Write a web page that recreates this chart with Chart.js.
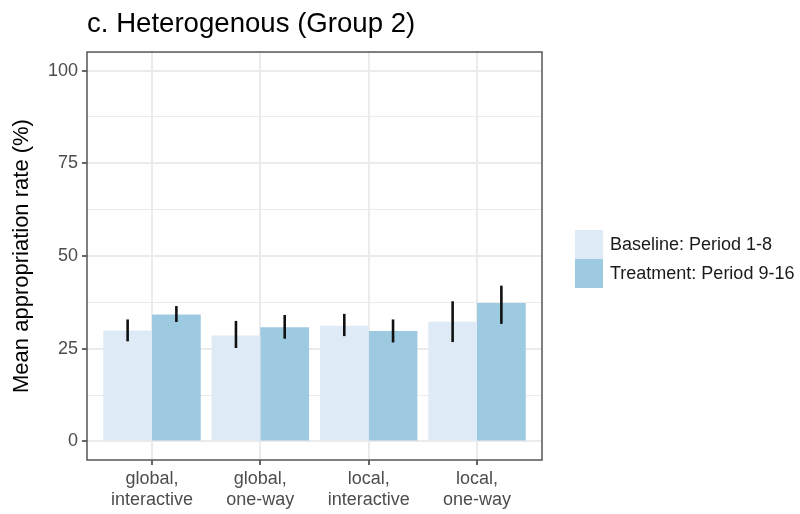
<!DOCTYPE html>
<html><head><meta charset="utf-8">
<script src="https://cdn.jsdelivr.net/npm/chart.js@4"></script>
<style>html,body{margin:0;padding:0;background:#fff;}</style>
</head><body>
<canvas id="c" width="800" height="514" style="width:800px;height:514px;display:block"></canvas>
<script>
const categories = [['global,','interactive'],['global,','one-way'],['local,','interactive'],['local,','one-way']];
const seriesNames = ['Baseline: Period 1-8','Treatment: Period 9-16'];
const seriesColors = ['#deebf7','#9ecae1'];
const baseline = [29.9, 28.6, 31.2, 32.3];
const treatment = [34.2, 30.8, 29.8, 37.3];
const baselineLow = [27.0, 25.2, 28.4, 26.8];
const baselineHigh = [32.9, 32.5, 34.4, 37.8];
const treatmentLow = [32.2, 27.7, 26.7, 31.7];
const treatmentHigh = [36.5, 34.1, 32.9, 42.0];
const yTicks = [0, 25, 50, 75, 100];
const yMinorTicks = [12.5, 37.5, 62.5, 87.5];
const titleText = 'c. Heterogenous (Group 2)';
const yTitle = 'Mean appropriation rate (%)';

const FONT = '"Liberation Sans", Arial, Helvetica, sans-serif';
Chart.defaults.font.family = FONT;

const seriesValues = [baseline, treatment];
const seriesLow = [baselineLow, treatmentLow];
const seriesHigh = [baselineHigh, treatmentHigh];

const datasets = seriesValues.map((vals, s) => ({
  label: seriesNames[s],
  data: vals.map((v, i) => ({x: i + 1, y: v})),
  errLow: seriesLow[s],
  errHigh: seriesHigh[s],
  backgroundColor: seriesColors[s],
  borderWidth: 0,
  categoryPercentage: 0.9,
  barPercentage: 1.0
}));

const errorBars = {
  id: 'errorBars',
  afterDatasetsDraw(chart) {
    const ctx = chart.ctx, ys = chart.scales.y;
    ctx.save();
    ctx.strokeStyle = '#111';
    ctx.lineWidth = 2.6;
    chart.data.datasets.forEach((ds, i) => {
      const meta = chart.getDatasetMeta(i);
      meta.data.forEach((el, j) => {
        ctx.beginPath();
        ctx.moveTo(el.x, ys.getPixelForValue(ds.errLow[j]));
        ctx.lineTo(el.x, ys.getPixelForValue(ds.errHigh[j]));
        ctx.stroke();
      });
    });
    ctx.restore();
  }
};

const panelAndLegend = {
  id: 'panelAndLegend',
  afterDraw(chart) {
    const ctx = chart.ctx, a = chart.chartArea;
    ctx.save();
    ctx.strokeStyle = '#555';
    ctx.lineWidth = 1.5;
    ctx.strokeRect(a.left, a.top, a.right - a.left, a.bottom - a.top);
    chart.data.datasets.forEach((ds, i) => {
      const x = 575, y = 230 + i * 29;
      ctx.fillStyle = ds.backgroundColor;
      ctx.fillRect(x, y, 28, 29);
      ctx.fillStyle = '#1a1a1a';
      ctx.font = '18px ' + FONT;
      ctx.textBaseline = 'middle';
      ctx.textAlign = 'left';
      ctx.fillText(ds.label, 610, y + 15);
    });
    ctx.restore();
  }
};

new Chart(document.getElementById('c'), {
  type: 'bar',
  data: { datasets },
  options: {
    responsive: false,
    animation: false,
    layout: { padding: { left: 0, right: 258, top: 8, bottom: 0 } },
    plugins: {
      legend: { display: false },
      tooltip: { enabled: false },
      title: {
        display: true, text: titleText, align: 'start', fullSize: false,
        color: '#000', font: { size: 27.6, weight: 'normal' },
        padding: { top: 0, bottom: 10.9 }
      }
    },
    scales: {
      x: {
        type: 'linear', min: 0.4, max: 4.6, offset: false,
        afterBuildTicks: s => { s.ticks = categories.map((c, i) => ({ value: i + 1 })); },
        afterFit: s => { s.height = 54; },
        ticks: {
          autoSkip: false, maxRotation: 0, minRotation: 0,
          callback: v => categories[v - 1],
          color: '#4d4d4d', font: { size: 18 }, padding: 3
        },
        grid: { offset: false, color: '#ebebeb', lineWidth: 2, tickColor: '#333', tickLength: 5, tickWidth: 1.5 },
        border: { display: false }
      },
      y: {
        type: 'linear', min: -5, max: 105,
        afterBuildTicks: s => { s.ticks = yTicks.concat(yMinorTicks).sort((p, q) => p - q).map(v => ({ value: v })); },
        afterFit: s => { s.width = 87; },
        ticks: {
          callback: v => yTicks.includes(v) ? String(v) : '',
          color: '#4d4d4d', font: { size: 18 }, padding: 4
        },
        grid: {
          color: '#ebebeb',
          lineWidth: c => (c.tick && yTicks.includes(c.tick.value)) ? 2 : 1,
          tickColor: c => (c.tick && yTicks.includes(c.tick.value)) ? '#333' : 'rgba(0,0,0,0)',
          tickLength: 5, tickWidth: 1.5
        },
        border: { display: false },
        title: { display: true, text: yTitle, color: '#000', font: { size: 22 }, padding: { top: 9, bottom: 0 } }
      }
    }
  },
  plugins: [errorBars, panelAndLegend]
});
</script>
</body></html>
